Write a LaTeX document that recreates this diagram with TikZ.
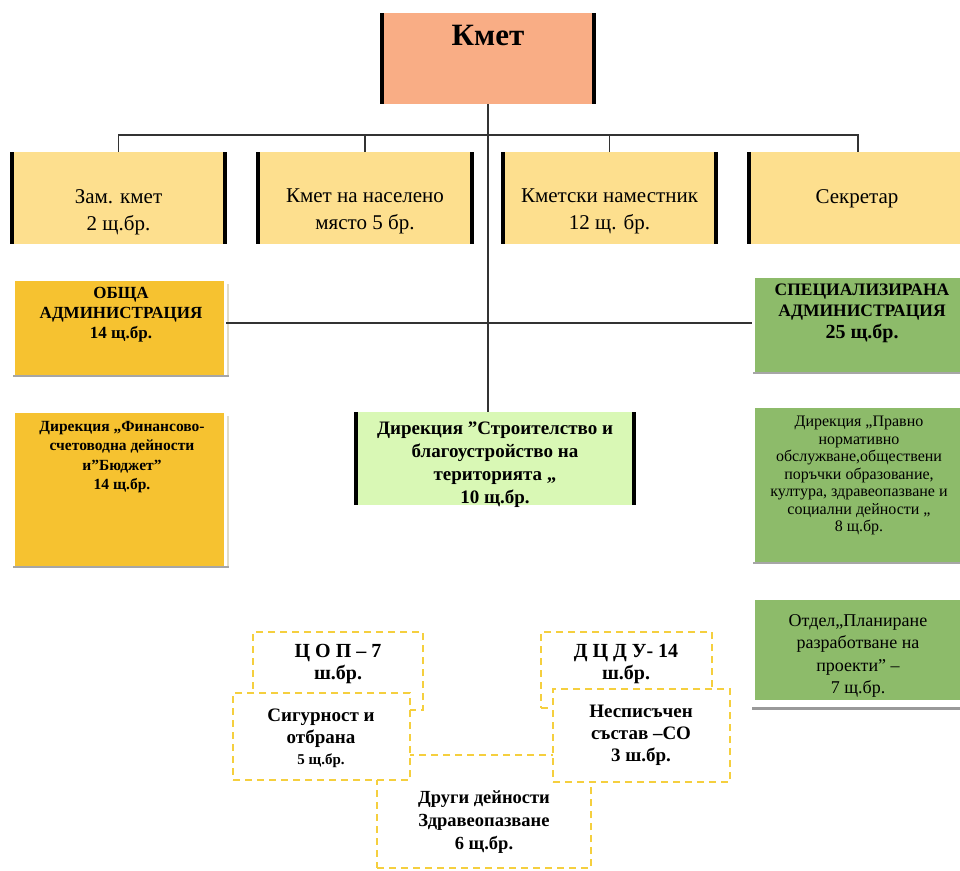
\documentclass[tikz,border=0pt]{standalone}
\usepackage{fontspec}
\IfFontExistsTF{LiberationSerif-Regular.ttf}{%
  \setmainfont{LiberationSerif}[Extension=.ttf,UprightFont=*-Regular,BoldFont=*-Bold,ItalicFont=*-Italic,BoldItalicFont=*-BoldItalic]}{%
  \setmainfont{Liberation Serif}}
\definecolor{salmon}{HTML}{F9AD85}
\definecolor{lgold}{HTML}{FDDF8E}
\definecolor{dgold}{HTML}{F6C230}
\definecolor{grn}{HTML}{8DBB6A}
\definecolor{lgrn}{HTML}{D9F8B5}
\definecolor{dashy}{HTML}{F5CF3E}
\definecolor{beige}{HTML}{E2DCC8}
\begin{document}
\begin{tikzpicture}[x=1pt,y=-1pt,
 box/.style={draw=none,inner sep=0pt,outer sep=0pt,rectangle},
 bar/.style={line width=4pt,black},
 conn/.style={line width=1.3pt,black!80},
 dbox/.style={draw=dashy,dash pattern=on 7pt off 5pt,line width=1.6pt,fill=white,inner sep=0pt,outer sep=0pt,rectangle},
 txt/.style={inner sep=0pt,align=center,anchor=north},
 shad/.style={line width=1.6pt,black!35},
 rside/.style={line width=1.2pt,beige}
]
\useasboundingbox (0,0) rectangle (960,870);
% ---------- boxes ----------
\node[box,fill=salmon,minimum width=212pt,minimum height=91pt] (kmet) at (488,58.5) {};
\node[box,fill=lgold,minimum width=213pt,minimum height=92pt] (zam) at (118.5,198) {};
\node[box,fill=lgold,minimum width=214pt,minimum height=92pt] (nas) at (365,198) {};
\node[box,fill=lgold,minimum width=213pt,minimum height=92pt] (nam) at (609.5,198) {};
\node[box,fill=lgold,minimum width=218pt,minimum height=92pt] (sek) at (858,198) {};
\node[box,fill=dgold,minimum width=209pt,minimum height=94pt] (obshta) at (119.5,328) {};
\node[box,fill=dgold,minimum width=209pt,minimum height=153pt] (finans) at (119.5,489.5) {};
\node[box,fill=grn,minimum width=210pt,minimum height=94pt] (spec) at (860,325) {};
\node[box,fill=grn,minimum width=210pt,minimum height=154pt] (pravno) at (860,485) {};
\node[box,fill=grn,minimum width=210pt,minimum height=100pt] (otdel) at (860,650) {};
\node[box,fill=lgrn,minimum width=278pt,minimum height=93pt] (stroi) at (495,458.5) {};
% bars
\foreach \n in {kmet,zam,nas,nam,sek,stroi}{
  \draw[bar] (\n.north west) -- (\n.south west);
}
\foreach \n in {kmet,zam,nas,nam,stroi}{
  \draw[bar] (\n.north east) -- (\n.south east);
}
% shadows
\foreach \n in {obshta,finans}{
  \draw[rside] ([xshift=4pt,yshift=-3pt]\n.north east) -- ([xshift=4pt]\n.south east);
  \draw[shad] ([xshift=-2pt,yshift=-1pt]\n.south west) -- ([xshift=5pt,yshift=-1pt]\n.south east);
}
\foreach \n in {spec,pravno}{
  \draw[shad] ([xshift=-2pt,yshift=-1pt]\n.south west) -- ([yshift=-1pt]\n.south east);
}
\draw[line width=3pt,black!40] ([xshift=-3pt,yshift=-8pt]otdel.south west) -- ([yshift=-8pt]otdel.south east);
% ---------- connectors ----------
\coordinate (hb) at (488,135);
\coordinate (hm) at (488,323);
\draw[conn] (kmet.south) -- (stroi.north -| kmet.south);
\draw[conn] (zam.north) -- (zam.north |- hb) -- (sek.north |- hb) -- (sek.north);
\draw[conn] (nas.north) -- (nas.north |- hb);
\draw[conn] (nam.north) -- (nam.north |- hb);
\draw[conn] ([xshift=2pt]obshta.east |- hm) -- ([xshift=-3pt]spec.west |- hm);
% ---------- dashed boxes ----------
\node[dbox,minimum width=214pt,minimum height=113pt] (drugi) at (484,811.5) {};
\node[dbox,minimum width=170pt,minimum height=78pt] (cop) at (338,671) {};
\node[dbox,minimum width=171pt,minimum height=76pt] (dcdu) at (626.5,670) {};
\node[dbox,minimum width=177pt,minimum height=87pt] (sig) at (321.5,736.5) {};
\node[dbox,minimum width=177pt,minimum height=93pt] (nesp) at (641.5,735.5) {};
% ---------- texts ----------
\node[txt,font=\fontsize{31}{34}\selectfont\bfseries] (tkmet) at (488,25) {Кмет};
\node[txt,font=\fontsize{21}{27}\selectfont] (tzam) at (118.5,189) {Зам. кмет\\2 щ.бр.};
\node[txt,font=\fontsize{21}{27}\selectfont] (tnas) at (365,189) {Кмет на населено\\място 5 бр.};
\node[txt,font=\fontsize{21}{27}\selectfont] (tnam) at (609.5,189) {Кметски наместник\\12 щ. бр.};
\node[txt,font=\fontsize{21}{27}\selectfont] (tsek) at (857,189) {Секретар};
\node[txt,font=\fontsize{17}{20}\selectfont\bfseries] (tobshta) at (121,287) {ОБЩА\\АДМИНИСТРАЦИЯ\\14 щ.бр.};
\node[txt,font=\fontsize{15.5}{19.5}\selectfont\bfseries] (tfinans) at (122,421) {Дирекция „Финансово-\\счетоводна дейности\\и”Бюджет”\\14 щ.бр.};
\node[txt,font=\fontsize{17.5}{20.5}\selectfont\bfseries] (tspec) at (862,284) {СПЕЦИАЛИЗИРАНА\\АДМИНИСТРАЦИЯ\\[2pt]{\fontsize{20}{22}\selectfont 25 щ.бр.}};
\node[txt,font=\fontsize{16}{17.5}\selectfont] (tpravno) at (859,416) {Дирекция „Правно\\нормативно\\обслужване,обществени\\поръчки образование,\\култура, здравеопазване и\\социални дейности „\\8 щ.бр.};
\node[txt,font=\fontsize{18}{22.5}\selectfont] (totdel) at (858,614) {Отдел„Планиране\\разработване на\\проекти” –\\7 щ.бр.};
\node[txt,font=\fontsize{19}{23}\selectfont\bfseries] (tstroi) at (495,422) {Дирекция ”Строителство и\\благоустройство на\\територията „\\10 щ.бр.};
\node[txt,font=\fontsize{20}{22}\selectfont\bfseries] (tcop) at (338,644) {Ц О П – 7\\ш.бр.};
\node[txt,font=\fontsize{20}{22}\selectfont\bfseries] (tdcdu) at (626,644) {Д Ц Д У- 14\\ш.бр.};
\node[txt,font=\fontsize{19}{21.5}\selectfont\bfseries] (tsig) at (321,709) {Сигурност и\\отбрана\\{\fontsize{15}{17}\selectfont 5 щ.бр.}};
\node[txt,font=\fontsize{19}{22}\selectfont\bfseries] (tnesp) at (641,705) {Несписъчен\\състав –СО\\3 ш.бр.};
\node[txt,font=\fontsize{18.5}{23}\selectfont\bfseries] (tdrugi) at (484,791) {Други дейности\\Здравеопазване\\6 щ.бр.};
\end{tikzpicture}
\end{document}
